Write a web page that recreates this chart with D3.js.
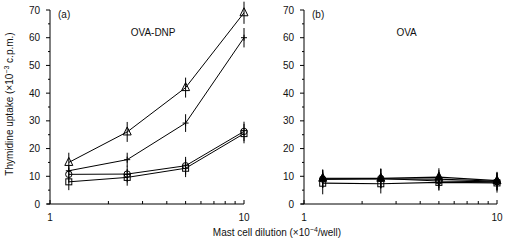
<!DOCTYPE html>
<html><head><meta charset="utf-8">
<script src="https://cdn.jsdelivr.net/npm/d3@7"></script>
<style>body{margin:0;background:#fff}svg{display:block}text{font-family:"Liberation Sans",Arial,sans-serif;fill:#111}</style>
</head><body><svg id="c" width="505" height="243"></svg>
<script>
const doses = [1.25, 2.5, 5, 10];
const yTicks = [0,10,20,30,40,50,60,70];
const xTickLabels = [1, 10];
// Panel (a) OVA-DNP
const aTriangle = [15, 26, 42, 69];
const aTriangleErr = [3.5, 3.6, 3.6, 4];
const aCross = [12, 16, 29.2, 60];
const aCrossErr = [0, 2.5, 3.2, 3.5];
const aCircle = [10.7, 10.8, 13.8, 26.2];
const aCircleErr = [3, 3, 3.2, 3.5];
const aSquare = [8, 9.6, 12.9, 25.4];
const aSquareErr = [3, 3, 3.2, 3.5];
// Panel (b) OVA
const bTriangle = [9.3, 9.3, 9.7, 8.4];
const bTriangleErr = [3.2, 3.5, 3.2, 3.2];
const bCross = [9.0, 9.1, 9.0, 8.2];
const bCrossErr = [3.2, 3.5, 3.2, 3.2];
const bCircle = [9.0, 9.2, 8.3, 8.0];
const bCircleErr = [3.2, 3.5, 3.2, 3.2];
const bSquare = [7.5, 7.3, 7.8, 7.6];
const bSquareErr = [4, 3.5, 3, 3.5];

const svg = d3.select('#c');
const y = d3.scaleLinear().domain([0,70]).range([204,10]);

function panel(x0, x1, label, title, series){
  const x = d3.scaleLog().domain([1,10]).range([x0,x1]);
  const g = svg.append('g');
  g.append('line').attr('x1',x0).attr('x2',x0).attr('y1',y(0)).attr('y2',y(70)).attr('stroke','#000');
  d3.range(0,71,5).forEach(v=>{
    const major = v%10===0;
    g.append('line').attr('x1',x0-(major?4:2)).attr('x2',x0).attr('y1',y(v)).attr('y2',y(v)).attr('stroke','#000');
  });
  yTicks.forEach(v=>g.append('text').attr('x',x0-10).attr('y',y(v)+3.5).attr('text-anchor','end').attr('font-size',10).text(v));
  g.append('line').attr('x1',x0-3).attr('x2',x1).attr('y1',y(0)).attr('y2',y(0)).attr('stroke','#000');
  d3.range(1,11).forEach(v=>{
    g.append('line').attr('x1',x(v)).attr('x2',x(v)).attr('y1',y(0)).attr('y2',y(0)-((v===1||v===10)?4:3)).attr('stroke','#000');
  });
  xTickLabels.forEach(v=>g.append('text').attr('x',x(v)).attr('y',221).attr('text-anchor','middle').attr('font-size',10).text(v));
  g.append('text').attr('x',x0+8).attr('y',18).attr('font-size',10).text(label);
  g.append('text').attr('x',x(3.4)).attr('y',36).attr('text-anchor','middle').attr('font-size',10).text(title);
  const line = d3.line().x((d,i)=>x(doses[i])).y(d=>y(d));
  series.forEach(s=>{
    g.append('path').attr('d',line(s.v)).attr('fill','none').attr('stroke','#000').attr('stroke-width',s.lw||1);
  });
  series.forEach(s=>{
    s.v.forEach((v,i)=>{
      const cx=x(doses[i]), cy=y(v), e=s.e[i];
      if(e>0) g.append('line').attr('x1',cx).attr('x2',cx).attr('y1',y(v+e)).attr('y2',y(v-e)).attr('stroke','#000');
      if(s.m==='tri'){
        g.append('path').attr('d',`M${cx},${cy-5}L${cx+4},${cy+3}L${cx-4},${cy+3}Z`).attr('fill',s.fill||'none').attr('stroke','#000');
      } else if(s.m==='sq'){
        g.append('rect').attr('x',cx-3).attr('y',cy-3).attr('width',6).attr('height',6).attr('fill',s.fill||'none').attr('stroke','#000');
      } else if(s.m==='circ'){
        g.append('circle').attr('cx',cx).attr('cy',cy).attr('r',3.2).attr('fill',s.fill||'none').attr('stroke','#000');
      } else {
        g.append('line').attr('x1',cx-3).attr('x2',cx+3).attr('y1',cy).attr('y2',cy).attr('stroke','#000');
        g.append('line').attr('x1',cx).attr('x2',cx).attr('y1',cy-3).attr('y2',cy+3).attr('stroke','#000');
      }
    });
  });
}
panel(50,244,'(a)','OVA-DNP',[
  {v:aTriangle,e:aTriangleErr,m:'tri'},
  {v:aCross,e:aCrossErr,m:'cross'},
  {v:aCircle,e:aCircleErr,m:'circ'},
  {v:aSquare,e:aSquareErr,m:'sq'}
]);
panel(304,497,'(b)','OVA',[
  {v:bSquare,e:bSquareErr,m:'sq',lw:1.2},
  {v:bCircle,e:bCircleErr,m:'circ',lw:1.2},
  {v:bCross,e:bCrossErr,m:'cross',lw:1.2},
  {v:bTriangle,e:bTriangleErr,m:'tri',fill:'#000',lw:1.2}
]);
const xl = svg.append('text').attr('x',277).attr('y',236).attr('text-anchor','middle').attr('font-size',10);
xl.append('tspan').text('Mast cell dilution (\u00d710');
xl.append('tspan').attr('dy',-4).attr('font-size',7).text('\u22124');
xl.append('tspan').attr('dy',4).text('/well)');
const yl = svg.append('text').attr('transform','translate(13,104) rotate(-90)').attr('text-anchor','middle').attr('font-size',10);
yl.append('tspan').text('Thymidine uptake (\u00d710');
yl.append('tspan').attr('dy',-4).attr('font-size',7).text('\u22123');
yl.append('tspan').attr('dy',4).text(' c.p.m.)');
</script></body></html>
